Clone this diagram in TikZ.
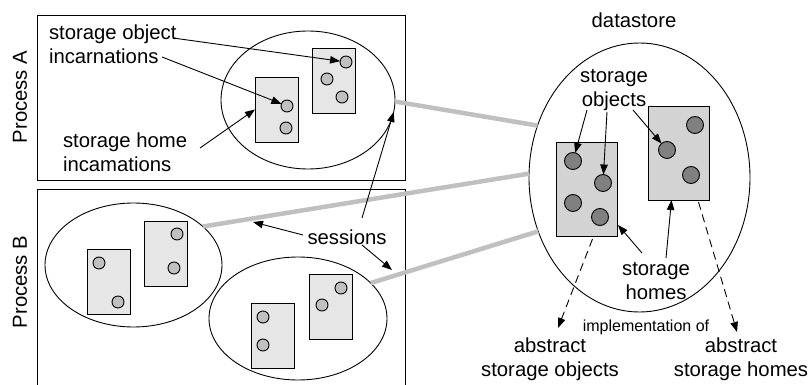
\documentclass[tikz,border=0pt]{standalone}
\usepackage{fontspec}
\setmainfont{Liberation Sans}
\usetikzlibrary{shapes.geometric,arrows.meta}
\definecolor{prectfill}{HTML}{E6E6E6}
\definecolor{pcircfill}{HTML}{C0C0C0}
\definecolor{drectfill}{HTML}{D3D3D3}
\definecolor{dcircfill}{HTML}{808080}
\definecolor{sessline}{HTML}{C0C0C0}
\begin{document}
\begin{tikzpicture}[x=1pt,y=-1pt,
  every node/.style={inner sep=0pt, outer sep=0pt},
  txt/.style={font=\fontsize{20.3}{24}\selectfont},
  smalltxt/.style={font=\fontsize{16}{18}\selectfont},
  procbox/.style={draw, line width=0.9pt},
  sess/.style={draw, ellipse, line width=0.9pt},
  prect/.style={draw, fill=prectfill, line width=0.9pt, minimum width=43pt, minimum height=65pt},
  pcirc/.style={draw, circle, fill=pcircfill, line width=0.9pt, minimum size=12pt},
  drect/.style={draw, fill=drectfill, line width=0.9pt, minimum width=61pt, minimum height=94pt},
  dcirc/.style={draw, circle, fill=dcircfill, line width=0.9pt, minimum size=17pt},
  arr/.style={line width=0.9pt, -{Triangle[length=10pt,width=7.5pt]}},
  dasharr/.style={line width=0.9pt, dash pattern=on 8pt off 5pt, -{Triangle[length=10pt,width=7.5pt]}},
  gline/.style={line width=4.5pt, draw=sessline}
]
\useasboundingbox (0,0) rectangle (812,385);

% process boxes
\draw[procbox] (37,15) rectangle (405,180);
\draw[procbox] (37,189) rectangle (405,400);
\node[txt, rotate=90] (pa) at (20,97) {Process A};
\node[txt, rotate=90] (pb) at (20,282) {Process B};

% session ellipses
\node[sess, minimum width=174pt, minimum height=138pt] (EA) at (308,100) {};
\node[sess, minimum width=177pt, minimum height=124pt] (EB1) at (133.5,265) {};
\node[sess, minimum width=178pt, minimum height=123pt] (EB2) at (298,318.5) {};

% datastore
\node[sess, minimum width=221pt, minimum height=269pt] (DS) at (639.5,177.5) {};
\node[txt] (dst) at (634,20) {datastore};

% process A rects and circles
\node[prect] (A1) at (276.5,109.5) {};
\node[prect] (A2) at (334,80.5) {};
\node[pcirc] (a1c1) at (287,106) {};
\node[pcirc] (a1c2) at (286,128) {};
\node[pcirc] (a2c1) at (346,62) {};
\node[pcirc] (a2c2) at (327,79) {};
\node[pcirc] (a2c3) at (342,97) {};

% process B rects and circles
\node[prect] (B1L) at (108.5,282) {};
\node[prect] (B1R) at (165.5,253.5) {};
\node[prect] (B2L) at (273,335.5) {};
\node[prect] (B2R) at (330.5,307) {};
\node[pcirc] (b1c1) at (99,263) {};
\node[pcirc] (b1c2) at (118,302) {};
\node[pcirc] (b1c3) at (177,234) {};
\node[pcirc] (b1c4) at (174,268) {};
\node[pcirc] (b2c1) at (263,317) {};
\node[pcirc] (b2c2) at (263,345) {};
\node[pcirc] (b2c3) at (341,288) {};
\node[pcirc] (b2c4) at (322,305) {};

% datastore rects and circles
\node[drect] (DS1) at (586.5,189) {};
\node[drect] (DS2) at (678.5,153) {};
\node[dcirc] (d1c1) at (573,161) {};
\node[dcirc] (d1c2) at (603,183) {};
\node[dcirc] (d1c3) at (573,203) {};
\node[dcirc] (d1c4) at (600,217) {};
\node[dcirc] (d2c1) at (695,125) {};
\node[dcirc] (d2c2) at (667,150) {};
\node[dcirc] (d2c3) at (691,175) {};

% session lines
\draw[gline] (EA.-1) -- (DS.153);
\draw[gline] (EB1.29) -- (DS.178);
\draw[gline] (EB2.26) -- (DS.208);

% texts
\node[txt, align=left, anchor=west] (soi) at (49,44) {storage object\\incarnations};
\node[txt, align=left, anchor=west] (shi) at (63,152) {storage home\\incamations};
\node[txt] (sess) at (347,237) {sessions};
\node[txt, align=center] (sot) at (614,90) {storage\\objects};
\node[txt, align=center] (sht) at (656,281) {storage\\homes};
\node[smalltxt] (impl) at (646,327) {implementation of};
\node[txt, align=center] (aso) at (550,359) {abstract\\storage objects};
\node[txt, align=center] (ash) at (741,359) {abstract\\storage homes};

% arrow tail / tip coordinates
\coordinate (soiT) at (173,38);
\coordinate (incT) at (162,57);
\coordinate (shiT) at (200,148);
\coordinate (sessUp) at (362,218);
\coordinate (sessL) at (303,235);
\coordinate (sessR) at (362,245);
\coordinate (sessLtip) at (253,222);
\coordinate (sessRtip) at (392,270);
\coordinate (so1) at (587,110);
\coordinate (so2) at (607,112);
\coordinate (so3) at (633,110);
\coordinate (sh1) at (642,253);
\coordinate (sh2) at (666,258);
\coordinate (asoTip) at (558,328);
\coordinate (ashTip) at (737,332);

% arrows in process A
\draw[arr] (soiT) -- (a2c1);
\draw[arr] (incT) -- (a1c1);
\draw[arr] (shiT) -- (A1.west);

% sessions arrows
\draw[arr] (sessUp) -- (EA.-8);
\draw[arr] (sessL) -- (sessLtip);
\draw[arr] (sessR) -- (sessRtip);

% datastore arrows
\draw[arr] (so1) -- (d1c1);
\draw[arr] (so2) -- (d1c2);
\draw[arr] (so3) -- (d2c2);
\draw[arr] (sh1) -- ([xshift=1pt,yshift=11pt]DS1.south east);
\draw[arr] (sh2) -- ([xshift=-7pt]DS2.south);

% dashed implementation arrows
\draw[dasharr] ([xshift=6pt,yshift=-3pt]DS1.south) -- (asoTip);
\draw[dasharr] ([xshift=20pt,yshift=-2pt]DS2.south) -- (ashTip);
\end{tikzpicture}
\end{document}
